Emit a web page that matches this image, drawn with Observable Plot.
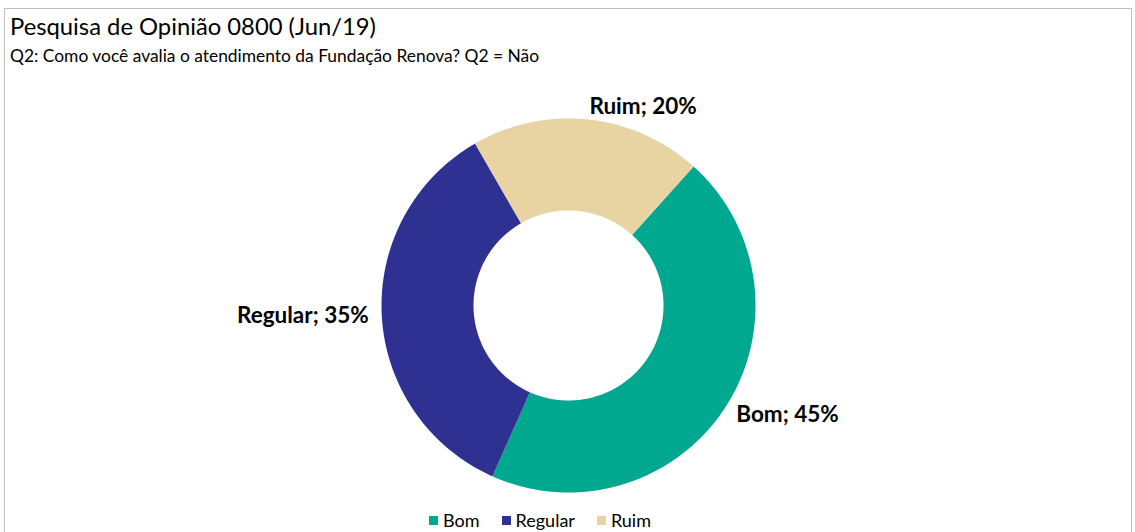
<!DOCTYPE html>
<html>
<head>
<meta charset="utf-8">
<script src="https://cdn.jsdelivr.net/npm/d3@7"></script>
<script src="https://cdn.jsdelivr.net/npm/@observablehq/plot@0.6"></script>
<style>
  html, body { margin: 0; padding: 0; background: #fff; }
  #wrap { position: relative; width: 1135px; height: 532px; overflow: hidden; font-family: Lato, "Open Sans", sans-serif; color: #000; }
  #frame { position: absolute; left: 4px; top: 8px; width: 1128px; height: 600px; border: 1px solid #bfbfbf; box-sizing: border-box; }
  #title { position: absolute; left: 10px; top: 12px; font-size: 23.8px; line-height: 28px; white-space: nowrap; }
  #subtitle { position: absolute; left: 10px; top: 46px; font-size: 17.4px; line-height: 20px; white-space: nowrap; }
  #chart { position: absolute; left: 0; top: 70px; }
  #legend { position: absolute; left: 0; width: 1135px; top: 509px; display: flex; justify-content: center; gap: 22px; font-size: 18px; line-height: 22px; padding-right: 55px; box-sizing: border-box; }
  #legend span.item { display: inline-flex; align-items: center; gap: 5px; }
  #legend span.sw { display: inline-block; width: 9px; height: 9px; }
</style>
</head>
<body>
<div id="wrap">
  <div id="frame"></div>
  <div id="title">Pesquisa de Opinião 0800 (Jun/19)</div>
  <div id="subtitle">Q2: Como você avalia o atendimento da Fundação Renova? Q2 = Não</div>
  <div id="chart"></div>
  <div id="legend"></div>
</div>
<script>
const categories = ["Bom", "Regular", "Ruim"];
const values = [45, 35, 20];
const colors = ["#00a88f", "#2e3192", "#e8d3a2"];
const firstSliceAngle = 42; // degrees clockwise from top

const outerR = 187, innerR = 95, labelR = 200;
const total = d3.sum(values);

// slice polygons built from the values
const polys = [];
const labels = [];
let start = firstSliceAngle;
categories.forEach((c, i) => {
  const span = values[i] / total * 360;
  const a0 = start, a1 = start + span;
  const n = Math.ceil(span * 2);
  const pts = [];
  for (let k = 0; k <= n; k++) {
    const a = (a0 + (a1 - a0) * k / n) * Math.PI / 180;
    pts.push({cat: c, x: outerR * Math.sin(a), y: outerR * Math.cos(a)});
  }
  for (let k = n; k >= 0; k--) {
    const a = (a0 + (a1 - a0) * k / n) * Math.PI / 180;
    pts.push({cat: c, x: innerR * Math.sin(a), y: innerR * Math.cos(a)});
  }
  polys.push(...pts);
  const mid = ((a0 + a1) / 2) * Math.PI / 180;
  labels.push({cat: c, text: `${c}; ${Math.round(values[i] / total * 100)}%`,
    x: labelR * Math.sin(mid), y: labelR * Math.cos(mid), right: Math.sin(mid) >= 0});
  start = a1;
});

const W = 1135, H = 440;
const plot = Plot.plot({
  width: W, height: H,
  margin: 0,
  x: {domain: [-568, W - 568], axis: null},
  y: {domain: [-(H - 235), 235], axis: null},
  color: {domain: categories, range: colors},
  style: {fontFamily: "Lato, 'Open Sans', sans-serif", background: "transparent"},
  marks: [
    Plot.line(polys, {x: "x", y: "y", z: "cat", fill: "cat", stroke: "none", curve: "linear-closed"}),
    Plot.text(labels.filter(d => d.right), {x: "x", y: "y", text: "text", textAnchor: "start", fontSize: 22.5, fontWeight: "bold", fill: "#000"}),
    Plot.text(labels.filter(d => !d.right), {x: "x", y: "y", text: "text", textAnchor: "end", fontSize: 22.5, fontWeight: "bold", fill: "#000"})
  ]
});
document.getElementById("chart").appendChild(plot);

const leg = document.getElementById("legend");
categories.forEach((c, i) => {
  const s = document.createElement("span");
  s.className = "item";
  s.innerHTML = `<span class="sw" style="background:${colors[i]}"></span>${c}`;
  leg.appendChild(s);
});
</script>
</body>
</html>
